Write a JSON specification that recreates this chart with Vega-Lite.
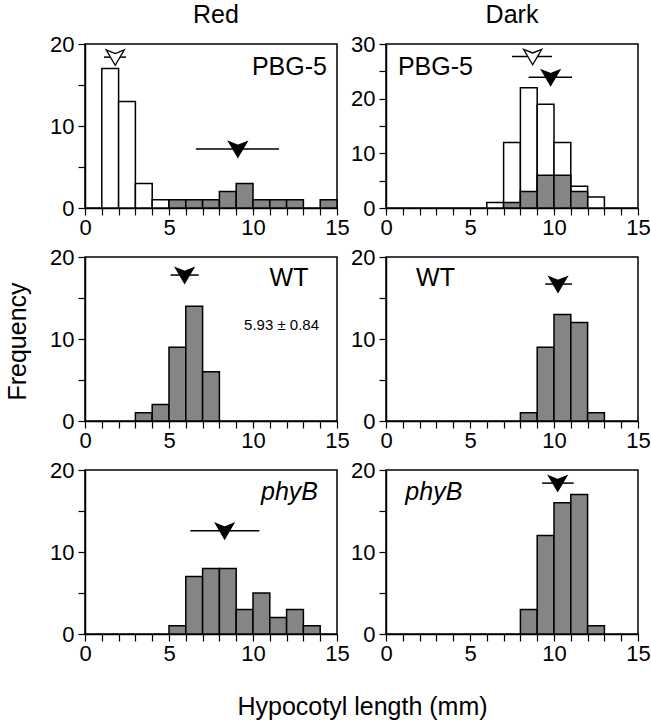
{
  "$schema": "https://vega.github.io/schema/vega-lite/v6.json",
  "padding": {"left": 4, "top": 2, "right": 0, "bottom": 0},
  "background": "white",
  "datasets": {
    "bars": [
      {"p": "RP", "x0": 1, "x1": 2, "open": 17, "filled": 0},
      {"p": "RP", "x0": 2, "x1": 3, "open": 13, "filled": 0},
      {"p": "RP", "x0": 3, "x1": 4, "open": 3, "filled": 0},
      {"p": "RP", "x0": 4, "x1": 5, "open": 1, "filled": 0},
      {"p": "RP", "x0": 5, "x1": 6, "open": 0, "filled": 1},
      {"p": "RP", "x0": 6, "x1": 7, "open": 0, "filled": 1},
      {"p": "RP", "x0": 7, "x1": 8, "open": 0, "filled": 1},
      {"p": "RP", "x0": 8, "x1": 9, "open": 0, "filled": 2},
      {"p": "RP", "x0": 9, "x1": 10, "open": 0, "filled": 3},
      {"p": "RP", "x0": 10, "x1": 11, "open": 0, "filled": 1},
      {"p": "RP", "x0": 11, "x1": 12, "open": 0, "filled": 1},
      {"p": "RP", "x0": 12, "x1": 13, "open": 0, "filled": 1},
      {"p": "RP", "x0": 14, "x1": 15, "open": 0, "filled": 1},
      {"p": "DP", "x0": 6, "x1": 7, "open": 1, "filled": 0},
      {"p": "DP", "x0": 7, "x1": 8, "open": 12, "filled": 1},
      {"p": "DP", "x0": 8, "x1": 9, "open": 22, "filled": 3},
      {"p": "DP", "x0": 9, "x1": 10, "open": 19, "filled": 6},
      {"p": "DP", "x0": 10, "x1": 11, "open": 12, "filled": 6},
      {"p": "DP", "x0": 11, "x1": 12, "open": 4, "filled": 3},
      {"p": "DP", "x0": 12, "x1": 13, "open": 2, "filled": 0},
      {"p": "RW", "x0": 3, "x1": 4, "open": 0, "filled": 1},
      {"p": "RW", "x0": 4, "x1": 5, "open": 0, "filled": 2},
      {"p": "RW", "x0": 5, "x1": 6, "open": 0, "filled": 9},
      {"p": "RW", "x0": 6, "x1": 7, "open": 0, "filled": 14},
      {"p": "RW", "x0": 7, "x1": 8, "open": 0, "filled": 6},
      {"p": "DW", "x0": 8, "x1": 9, "open": 0, "filled": 1},
      {"p": "DW", "x0": 9, "x1": 10, "open": 0, "filled": 9},
      {"p": "DW", "x0": 10, "x1": 11, "open": 0, "filled": 13},
      {"p": "DW", "x0": 11, "x1": 12, "open": 0, "filled": 12},
      {"p": "DW", "x0": 12, "x1": 13, "open": 0, "filled": 1},
      {"p": "RB", "x0": 5, "x1": 6, "open": 0, "filled": 1},
      {"p": "RB", "x0": 6, "x1": 7, "open": 0, "filled": 7},
      {"p": "RB", "x0": 7, "x1": 8, "open": 0, "filled": 8},
      {"p": "RB", "x0": 8, "x1": 9, "open": 0, "filled": 8},
      {"p": "RB", "x0": 9, "x1": 10, "open": 0, "filled": 3},
      {"p": "RB", "x0": 10, "x1": 11, "open": 0, "filled": 5},
      {"p": "RB", "x0": 11, "x1": 12, "open": 0, "filled": 2},
      {"p": "RB", "x0": 12, "x1": 13, "open": 0, "filled": 3},
      {"p": "RB", "x0": 13, "x1": 14, "open": 0, "filled": 1},
      {"p": "DB", "x0": 8, "x1": 9, "open": 0, "filled": 3},
      {"p": "DB", "x0": 9, "x1": 10, "open": 0, "filled": 12},
      {"p": "DB", "x0": 10, "x1": 11, "open": 0, "filled": 16},
      {"p": "DB", "x0": 11, "x1": 12, "open": 0, "filled": 17},
      {"p": "DB", "x0": 12, "x1": 13, "open": 0, "filled": 1}
    ],
    "means": [
      {"p": "RP", "kind": "open", "mean": 1.8, "lo": 1.13, "hi": 2.44, "yv": 18.4},
      {"p": "RP", "kind": "filled", "mean": 9.1, "lo": 6.6, "hi": 11.55, "yv": 7.2},
      {"p": "DP", "kind": "open", "mean": 8.73, "lo": 7.5, "hi": 9.88, "yv": 27.7},
      {"p": "DP", "kind": "filled", "mean": 9.8, "lo": 8.49, "hi": 11.07, "yv": 23.9},
      {"p": "RW", "kind": "filled", "mean": 5.93, "lo": 5.09, "hi": 6.77, "yv": 17.8},
      {"p": "DW", "kind": "filled", "mean": 10.24, "lo": 9.48, "hi": 11.07, "yv": 16.7},
      {"p": "RB", "kind": "filled", "mean": 8.31, "lo": 6.27, "hi": 10.38, "yv": 12.6},
      {"p": "DB", "kind": "filled", "mean": 10.22, "lo": 9.29, "hi": 11.17, "yv": 18.4}
    ]
  },
  "columns": 2,
  "spacing": 49,
  "bounds": "flush",
  "concat": [
    {
      "width": 252, "height": 164,
      "title": {"text": "Red", "offset": 5, "dx": 5},
      "layer": [
        {"data": {"name": "bars"}, "transform": [{"filter": "datum.p == 'RP' && datum.open > 0"}],
         "mark": {"type": "rect", "fill": "white", "stroke": "black", "strokeWidth": 1.5},
         "encoding": {
           "x": {"field": "x0", "type": "quantitative", "scale": {"domain": [0, 15], "nice": false},
                 "axis": {"values": [0,1,2,3,4,5,6,7,8,9,10,11,12,13,14,15], "tickCount": 40, "format": "d", "labelExpr": "datum.value % 5 == 0 ? datum.label : ''", "labelOverlap": false, "title": null}},
           "x2": {"field": "x1"},
           "y": {"field": "open", "type": "quantitative", "scale": {"domain": [0, 20], "nice": false},
                 "axis": {"values": [0,5,10,15,20], "tickCount": 40, "format": "d", "labelExpr": "datum.value % 10 == 0 ? datum.label : ''", "labelOverlap": false, "title": null}},
           "y2": {"datum": 0}}},
        {"data": {"name": "bars"}, "transform": [{"filter": "datum.p == 'RP' && datum.filled > 0"}],
         "mark": {"type": "rect", "fill": "#858585", "stroke": "black", "strokeWidth": 1.5},
         "encoding": {"x": {"field": "x0", "type": "quantitative"}, "x2": {"field": "x1"}, "y": {"field": "filled", "type": "quantitative"}, "y2": {"datum": 0}}},
        {"data": {"name": "means"}, "transform": [{"filter": "datum.p == 'RP'"}],
         "mark": {"type": "rule", "stroke": "black", "strokeWidth": 1.5},
         "encoding": {"x": {"field": "lo", "type": "quantitative"}, "x2": {"field": "hi"}, "y": {"field": "yv", "type": "quantitative"}}},
        {"data": {"name": "means"}, "transform": [{"filter": "datum.p == 'RP'"}],
         "mark": {"type": "point", "shape": "M-1,-0.8L0,-0.4L1,-0.8L0,0.9Z", "size": 330, "strokeWidth": 1.3, "opacity": 1},
         "encoding": {"x": {"field": "mean", "type": "quantitative"}, "y": {"field": "yv", "type": "quantitative"},
           "fill": {"field": "kind", "type": "nominal", "scale": {"domain": ["open", "filled"], "range": ["white", "black"]}, "legend": null},
           "stroke": {"value": "black"}}},
        {"data": {"values": [{"label": "PBG-5"}]},
         "mark": {"type": "text", "fontSize": 25, "align": "right", "baseline": "alphabetic"},
         "encoding": {"x": {"datum": 14.4}, "y": {"datum": 16.2}, "text": {"field": "label"}}}
      ]
    },
    {
      "width": 252, "height": 164,
      "title": {"text": "Dark", "offset": 5},
      "layer": [
        {"data": {"name": "bars"}, "transform": [{"filter": "datum.p == 'DP' && datum.open > 0"}],
         "mark": {"type": "rect", "fill": "white", "stroke": "black", "strokeWidth": 1.5},
         "encoding": {
           "x": {"field": "x0", "type": "quantitative", "scale": {"domain": [0, 15], "nice": false},
                 "axis": {"values": [0,1,2,3,4,5,6,7,8,9,10,11,12,13,14,15], "tickCount": 40, "format": "d", "labelExpr": "datum.value % 5 == 0 ? datum.label : ''", "labelOverlap": false, "title": null}},
           "x2": {"field": "x1"},
           "y": {"field": "open", "type": "quantitative", "scale": {"domain": [0, 30], "nice": false},
                 "axis": {"values": [0,5,10,15,20,25,30], "tickCount": 40, "format": "d", "labelExpr": "datum.value % 10 == 0 ? datum.label : ''", "labelOverlap": false, "title": null}},
           "y2": {"datum": 0}}},
        {"data": {"name": "bars"}, "transform": [{"filter": "datum.p == 'DP' && datum.filled > 0"}],
         "mark": {"type": "rect", "fill": "#858585", "stroke": "black", "strokeWidth": 1.5},
         "encoding": {"x": {"field": "x0", "type": "quantitative"}, "x2": {"field": "x1"}, "y": {"field": "filled", "type": "quantitative"}, "y2": {"datum": 0}}},
        {"data": {"name": "means"}, "transform": [{"filter": "datum.p == 'DP'"}],
         "mark": {"type": "rule", "stroke": "black", "strokeWidth": 1.5},
         "encoding": {"x": {"field": "lo", "type": "quantitative"}, "x2": {"field": "hi"}, "y": {"field": "yv", "type": "quantitative"}}},
        {"data": {"name": "means"}, "transform": [{"filter": "datum.p == 'DP'"}],
         "mark": {"type": "point", "shape": "M-1,-0.8L0,-0.4L1,-0.8L0,0.9Z", "size": 330, "strokeWidth": 1.3, "opacity": 1},
         "encoding": {"x": {"field": "mean", "type": "quantitative"}, "y": {"field": "yv", "type": "quantitative"},
           "fill": {"field": "kind", "type": "nominal", "scale": {"domain": ["open", "filled"], "range": ["white", "black"]}, "legend": null},
           "stroke": {"value": "black"}}},
        {"data": {"values": [{"label": "PBG-5"}]},
         "mark": {"type": "text", "fontSize": 25, "align": "left", "baseline": "alphabetic"},
         "encoding": {"x": {"datum": 0.71}, "y": {"datum": 24.3}, "text": {"field": "label"}}}
      ]
    },
    {
      "width": 252, "height": 164,
      "layer": [
        {"data": {"name": "bars"}, "transform": [{"filter": "datum.p == 'RW' && datum.filled > 0"}],
         "mark": {"type": "rect", "fill": "#858585", "stroke": "black", "strokeWidth": 1.5},
         "encoding": {
           "x": {"field": "x0", "type": "quantitative", "scale": {"domain": [0, 15], "nice": false},
                 "axis": {"values": [0,1,2,3,4,5,6,7,8,9,10,11,12,13,14,15], "tickCount": 40, "format": "d", "labelExpr": "datum.value % 5 == 0 ? datum.label : ''", "labelOverlap": false, "title": null}},
           "x2": {"field": "x1"},
           "y": {"field": "filled", "type": "quantitative", "scale": {"domain": [0, 20], "nice": false},
                 "axis": {"values": [0,5,10,15,20], "tickCount": 40, "format": "d", "labelExpr": "datum.value % 10 == 0 ? datum.label : ''", "labelOverlap": false, "title": "Frequency",
                          "titleX": -60, "titleY": 84, "titleAngle": -90, "titleAlign": "center", "titleBaseline": "alphabetic"}},
           "y2": {"datum": 0}}},
        {"data": {"name": "means"}, "transform": [{"filter": "datum.p == 'RW'"}],
         "mark": {"type": "rule", "stroke": "black", "strokeWidth": 1.5},
         "encoding": {"x": {"field": "lo", "type": "quantitative"}, "x2": {"field": "hi"}, "y": {"field": "yv", "type": "quantitative"}}},
        {"data": {"name": "means"}, "transform": [{"filter": "datum.p == 'RW'"}],
         "mark": {"type": "point", "shape": "M-1,-0.8L0,-0.4L1,-0.8L0,0.9Z", "size": 330, "strokeWidth": 1.3, "opacity": 1, "fill": "black", "stroke": "black", "filled": true},
         "encoding": {"x": {"field": "mean", "type": "quantitative"}, "y": {"field": "yv", "type": "quantitative"}}},
        {"data": {"values": [{"label": "WT"}]},
         "mark": {"type": "text", "fontSize": 25, "align": "right", "baseline": "alphabetic"},
         "encoding": {"x": {"datum": 13.3}, "y": {"datum": 16.5}, "text": {"field": "label"}}},
        {"data": {"values": [{"label": "5.93 ± 0.84"}]},
         "mark": {"type": "text", "fontSize": 15, "align": "center", "baseline": "alphabetic"},
         "encoding": {"x": {"datum": 11.7}, "y": {"datum": 11.1}, "text": {"field": "label"}}}
      ]
    },
    {
      "width": 252, "height": 164,
      "layer": [
        {"data": {"name": "bars"}, "transform": [{"filter": "datum.p == 'DW' && datum.filled > 0"}],
         "mark": {"type": "rect", "fill": "#858585", "stroke": "black", "strokeWidth": 1.5},
         "encoding": {
           "x": {"field": "x0", "type": "quantitative", "scale": {"domain": [0, 15], "nice": false},
                 "axis": {"values": [0,1,2,3,4,5,6,7,8,9,10,11,12,13,14,15], "tickCount": 40, "format": "d", "labelExpr": "datum.value % 5 == 0 ? datum.label : ''", "labelOverlap": false, "title": null}},
           "x2": {"field": "x1"},
           "y": {"field": "filled", "type": "quantitative", "scale": {"domain": [0, 20], "nice": false},
                 "axis": {"values": [0,5,10,15,20], "tickCount": 40, "format": "d", "labelExpr": "datum.value % 10 == 0 ? datum.label : ''", "labelOverlap": false, "title": null}},
           "y2": {"datum": 0}}},
        {"data": {"name": "means"}, "transform": [{"filter": "datum.p == 'DW'"}],
         "mark": {"type": "rule", "stroke": "black", "strokeWidth": 1.5},
         "encoding": {"x": {"field": "lo", "type": "quantitative"}, "x2": {"field": "hi"}, "y": {"field": "yv", "type": "quantitative"}}},
        {"data": {"name": "means"}, "transform": [{"filter": "datum.p == 'DW'"}],
         "mark": {"type": "point", "shape": "M-1,-0.8L0,-0.4L1,-0.8L0,0.9Z", "size": 330, "strokeWidth": 1.3, "opacity": 1, "fill": "black", "stroke": "black", "filled": true},
         "encoding": {"x": {"field": "mean", "type": "quantitative"}, "y": {"field": "yv", "type": "quantitative"}}},
        {"data": {"values": [{"label": "WT"}]},
         "mark": {"type": "text", "fontSize": 25, "align": "left", "baseline": "alphabetic"},
         "encoding": {"x": {"datum": 1.79}, "y": {"datum": 16.5}, "text": {"field": "label"}}}
      ]
    },
    {
      "width": 252, "height": 164,
      "layer": [
        {"data": {"name": "bars"}, "transform": [{"filter": "datum.p == 'RB' && datum.filled > 0"}],
         "mark": {"type": "rect", "fill": "#858585", "stroke": "black", "strokeWidth": 1.5},
         "encoding": {
           "x": {"field": "x0", "type": "quantitative", "scale": {"domain": [0, 15], "nice": false},
                 "axis": {"values": [0,1,2,3,4,5,6,7,8,9,10,11,12,13,14,15], "tickCount": 40, "format": "d", "labelExpr": "datum.value % 5 == 0 ? datum.label : ''", "labelOverlap": false,
                          "title": "Hypocotyl length (mm)", "titleX": 277, "titleY": 80, "titleAlign": "center", "titleBaseline": "alphabetic"}},
           "x2": {"field": "x1"},
           "y": {"field": "filled", "type": "quantitative", "scale": {"domain": [0, 20], "nice": false},
                 "axis": {"values": [0,5,10,15,20], "tickCount": 40, "format": "d", "labelExpr": "datum.value % 10 == 0 ? datum.label : ''", "labelOverlap": false, "title": null}},
           "y2": {"datum": 0}}},
        {"data": {"name": "means"}, "transform": [{"filter": "datum.p == 'RB'"}],
         "mark": {"type": "rule", "stroke": "black", "strokeWidth": 1.5},
         "encoding": {"x": {"field": "lo", "type": "quantitative"}, "x2": {"field": "hi"}, "y": {"field": "yv", "type": "quantitative"}}},
        {"data": {"name": "means"}, "transform": [{"filter": "datum.p == 'RB'"}],
         "mark": {"type": "point", "shape": "M-1,-0.8L0,-0.4L1,-0.8L0,0.9Z", "size": 330, "strokeWidth": 1.3, "opacity": 1, "fill": "black", "stroke": "black", "filled": true},
         "encoding": {"x": {"field": "mean", "type": "quantitative"}, "y": {"field": "yv", "type": "quantitative"}}},
        {"data": {"values": [{"label": "phyB"}]},
         "mark": {"type": "text", "fontSize": 25, "fontStyle": "italic", "align": "right", "baseline": "alphabetic"},
         "encoding": {"x": {"datum": 13.87}, "y": {"datum": 16.4}, "text": {"field": "label"}}}
      ]
    },
    {
      "width": 252, "height": 164,
      "layer": [
        {"data": {"name": "bars"}, "transform": [{"filter": "datum.p == 'DB' && datum.filled > 0"}],
         "mark": {"type": "rect", "fill": "#858585", "stroke": "black", "strokeWidth": 1.5},
         "encoding": {
           "x": {"field": "x0", "type": "quantitative", "scale": {"domain": [0, 15], "nice": false},
                 "axis": {"values": [0,1,2,3,4,5,6,7,8,9,10,11,12,13,14,15], "tickCount": 40, "format": "d", "labelExpr": "datum.value % 5 == 0 ? datum.label : ''", "labelOverlap": false, "title": null}},
           "x2": {"field": "x1"},
           "y": {"field": "filled", "type": "quantitative", "scale": {"domain": [0, 20], "nice": false},
                 "axis": {"values": [0,5,10,15,20], "tickCount": 40, "format": "d", "labelExpr": "datum.value % 10 == 0 ? datum.label : ''", "labelOverlap": false, "title": null}},
           "y2": {"datum": 0}}},
        {"data": {"name": "means"}, "transform": [{"filter": "datum.p == 'DB'"}],
         "mark": {"type": "rule", "stroke": "black", "strokeWidth": 1.5},
         "encoding": {"x": {"field": "lo", "type": "quantitative"}, "x2": {"field": "hi"}, "y": {"field": "yv", "type": "quantitative"}}},
        {"data": {"name": "means"}, "transform": [{"filter": "datum.p == 'DB'"}],
         "mark": {"type": "point", "shape": "M-1,-0.8L0,-0.4L1,-0.8L0,0.9Z", "size": 330, "strokeWidth": 1.3, "opacity": 1, "fill": "black", "stroke": "black", "filled": true},
         "encoding": {"x": {"field": "mean", "type": "quantitative"}, "y": {"field": "yv", "type": "quantitative"}}},
        {"data": {"values": [{"label": "phyB"}]},
         "mark": {"type": "text", "fontSize": 25, "fontStyle": "italic", "align": "left", "baseline": "alphabetic"},
         "encoding": {"x": {"datum": 1.15}, "y": {"datum": 16.4}, "text": {"field": "label"}}}
      ]
    }
  ],
  "config": {
    "font": "Liberation Sans",
    "view": {"stroke": "black", "strokeWidth": 1.5},
    "axis": {"domainColor": "black", "domainWidth": 1.5, "tickColor": "black", "tickWidth": 1.2, "tickSize": 7,
             "labelColor": "black", "labelFontSize": 22, "labelFont": "Liberation Sans", "labelFlush": false, "labelOverlap": false,
             "grid": false, "titleColor": "black", "titleFontSize": 25, "titleFont": "Liberation Sans", "titleFontWeight": "normal"},
    "axisX": {"labelPadding": 2},
    "axisY": {"labelPadding": 4},
    "title": {"fontSize": 25, "fontWeight": "normal", "font": "Liberation Sans", "color": "black"},
    "text": {"font": "Liberation Sans", "color": "black"}
  }
}
